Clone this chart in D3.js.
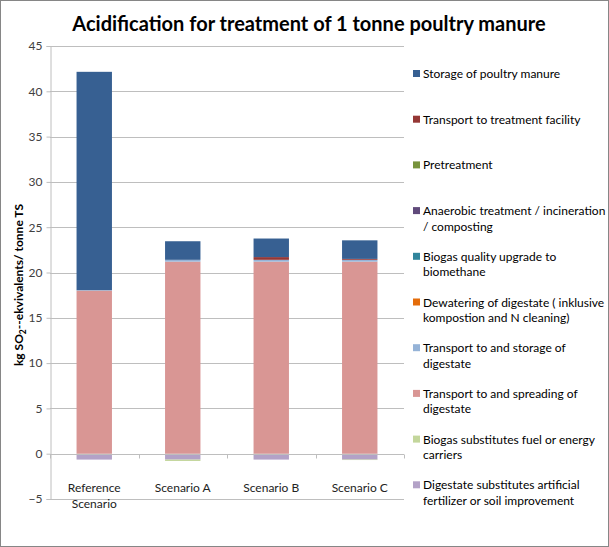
<!DOCTYPE html>
<html><head><meta charset="utf-8">
<script src="https://cdn.jsdelivr.net/npm/d3@7"></script>
<style>body{margin:0;background:#fff}svg{display:block;font-family:Lato,"Open Sans",sans-serif}</style>
</head><body><svg id="c" width="609" height="547"></svg>
<script>
const categories = ["Reference Scenario", "Scenario A", "Scenario B", "Scenario C"];
const seriesNames = [
  "Storage of poultry manure",
  "Transport to treatment facility",
  "Pretreatment",
  "Anaerobic treatment / incineration / composting",
  "Biogas quality upgrade to biomethane",
  "Dewatering of digestate ( inklusive kompostion and N cleaning)",
  "Transport to and storage of digestate",
  "Transport to  and spreading of digestate",
  "Biogas substitutes fuel or energy carriers",
  "Digestate substitutes artificial fertilizer or soil improvement"
];
const storage = [24.1, 2.05, 2.05, 2.05];
const transportFacility = [0, 0, 0.3, 0.1];
const pretreatment = [0, 0, 0, 0];
const anaerobic = [0, 0, 0, 0];
const upgrade = [0, 0, 0, 0];
const dewatering = [0, 0, 0, 0];
const transportStorage = [0.05, 0.2, 0.2, 0.2];
const spreading = [18.0, 21.2, 21.2, 21.2];
const biogasSubst = [0, -0.15, 0, -0.05];
const digestateSubst = [-0.65, -0.65, -0.65, -0.65];
const yTicks = [-5, 0, 5, 10, 15, 20, 25, 30, 35, 40, 45];
const colors = ["#376092", "#953735", "#77933C", "#604A7B", "#31859C", "#E46C0A", "#95B3D7", "#D99694", "#C3D69B", "#B3A2C7"];
const legendLines = [
  ["Storage of poultry manure"],
  ["Transport to treatment facility"],
  ["Pretreatment"],
  ["Anaerobic treatment / incineration", "/ composting"],
  ["Biogas quality upgrade to", "biomethane"],
  ["Dewatering of digestate ( inklusive", "kompostion and N cleaning)"],
  ["Transport to and storage of", "digestate"],
  ["Transport to  and spreading of", "digestate"],
  ["Biogas substitutes fuel or energy", "carriers"],
  ["Digestate substitutes artificial", "fertilizer or soil improvement"]
];
const catLines = [["Reference", "Scenario"], ["Scenario A"], ["Scenario B"], ["Scenario C"]];

const allSeries = [storage, transportFacility, pretreatment, anaerobic, upgrade, dewatering, transportStorage, spreading, biogasSubst, digestateSubst];
const rows = categories.map((c, i) => {
  const r = {cat: c};
  seriesNames.forEach((s, j) => r[s] = allSeries[j][i]);
  return r;
});
const colorOf = d3.scaleOrdinal().domain(seriesNames).range(colors);

const svg = d3.select("#c");
svg.append("rect").attr("x", 0.5).attr("y", 0.5).attr("width", 608).attr("height", 546)
  .attr("fill", "#fff").attr("stroke", "#868686");

const x = d3.scaleBand().domain(categories).range([50, 404]).paddingInner(0.6).paddingOuter(0.3);
const y = d3.scaleLinear().domain([-5, 45]).range([499, 46]);

// gridlines
svg.append("g").selectAll("line").data(yTicks).join("line")
  .attr("x1", 50).attr("x2", 404)
  .attr("y1", d => Math.round(y(d)) + 0.5).attr("y2", d => Math.round(y(d)) + 0.5)
  .attr("stroke", "#BEBEBE").attr("stroke-width", 1);

// y axis
const yAxis = d3.axisLeft(y).tickValues(yTicks).tickSize(4).tickPadding(4).tickFormat(d3.format("d"));
const ya = svg.append("g").attr("transform", "translate(50.5,0)").call(yAxis);
ya.select(".domain").attr("stroke", "#BEBEBE");
ya.selectAll(".tick line").attr("stroke", "#BEBEBE");
ya.selectAll("text").attr("font-size", 12).attr("fill", "#404040").attr("font-family", "Lato, sans-serif");

// Excel stacks series in order from the bottom: last series closest to the axis for this chart
const stack = d3.stack().keys(seriesNames.slice().reverse()).offset(d3.stackOffsetDiverging);
const stacked = stack(rows);

svg.append("g").selectAll("g").data(stacked).join("g")
  .attr("fill", d => colorOf(d.key))
  .selectAll("rect").data(d => d).join("rect")
  .attr("x", d => x(d.data.cat))
  .attr("width", x.bandwidth())
  .attr("y", d => y(Math.max(d[0], d[1])))
  .attr("height", d => Math.abs(y(d[0]) - y(d[1])));

// x axis at zero
const xa = svg.append("g").attr("transform", `translate(0,${Math.round(y(0)) + 0.5})`);
xa.append("line").attr("x1", 50).attr("x2", 404).attr("stroke", "#BEBEBE");
const step = x.step();
xa.selectAll("line.t").data(d3.range(5)).join("line").attr("class", "t")
  .attr("x1", i => Math.round(50 + i * step) + 0.5).attr("x2", i => Math.round(50 + i * step) + 0.5)
  .attr("y1", 0).attr("y2", 4).attr("stroke", "#BEBEBE");

// category labels
const cl = svg.append("g").selectAll("text").data(categories).join("text")
  .attr("x", d => x(d) + x.bandwidth() / 2).attr("y", 492)
  .attr("text-anchor", "middle").attr("font-size", 12).attr("fill", "#222");
cl.selectAll("tspan").data((d, i) => catLines[i]).join("tspan")
  .attr("x", function () { return d3.select(this.parentNode).attr("x"); })
  .attr("dy", (d, i) => i === 0 ? 0 : 16).text(d => d);

// title
svg.append("text").attr("x", 309).attr("y", 31).attr("text-anchor", "middle")
  .attr("font-size", 20).attr("font-weight", "bold").attr("fill", "#000")
  .text("Acidification for treatment of 1 tonne poultry manure");

// y label
const yl = svg.append("text").attr("transform", "translate(23,285) rotate(-90)")
  .attr("text-anchor", "middle").attr("font-size", 12).attr("font-weight", "bold").attr("fill", "#000");
yl.append("tspan").text("kg  SO");
yl.append("tspan").attr("font-size", 8.5).attr("dy", 3).text("2");
yl.append("tspan").attr("dy", -3).text("--ekvivalents/ tonne TS");

// legend
const lg = svg.append("g").selectAll("g").data(seriesNames).join("g")
  .attr("transform", (d, i) => `translate(413,${78 + i * 45.7})`);
lg.append("rect").attr("x", 0).attr("y", -8).attr("width", 7).attr("height", 7)
  .attr("fill", d => colorOf(d));
lg.append("text").attr("x", 10).attr("y", 0).attr("font-size", 12).attr("fill", "#000")
  .selectAll("tspan").data((d, i) => legendLines[i]).join("tspan")
  .attr("x", 10).attr("dy", (d, i) => i === 0 ? 0 : 15.5).text(d => d);
</script></body></html>
